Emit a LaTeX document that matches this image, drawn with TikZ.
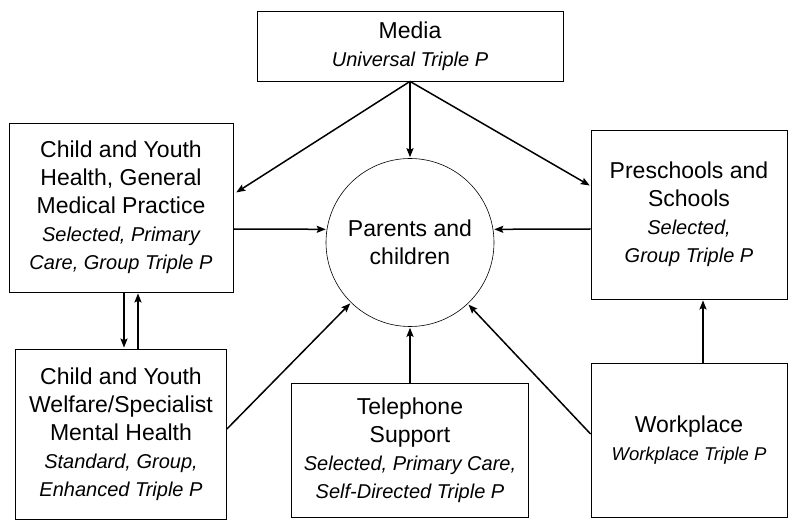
\documentclass[tikz,border=0pt]{standalone}
\usepackage{fontspec}
\setmainfont{Liberation Sans}
\usepackage{tikz}
\usetikzlibrary{arrows.meta}

\newcommand{\prog}[1]{{\itshape\fontsize{20}{25}\selectfont #1}}

\begin{document}
\begin{tikzpicture}[->,>={Stealth[length=9pt,width=7pt,inset=1.5pt]},shorten >=1pt,line width=1.5pt,x=1pt,y=1pt]
\tikzstyle{box}=[rectangle,draw=black,line width=0.8pt,align=center,text=black,inner sep=0pt,font=\fontsize{23}{28}\selectfont]
\tikzstyle{group}=[circle,draw=black,line width=0.6pt,align=center,text=black,inner sep=0pt,minimum size=168pt,font=\fontsize{23}{28}\selectfont]
\useasboundingbox (0,0) rectangle (796,520);

\node[group]                                     (pc)      at (410,277.5) {Parents and\\children};
\node[box,minimum width=306pt,minimum height=70pt]  (media)   [above of=pc, node distance=196.5pt] {Media\\\prog{Universal Triple P}};
\node[box,minimum width=224pt,minimum height=169pt] (health)  at (121,312.5) {Child and Youth\\Health, General\\Medical Practice\\\prog{Selected, Primary}\\\prog{Care, Group Triple P}};
\node[box,minimum width=211pt,minimum height=170pt] (welfare) [below of=health, node distance=226.5pt] {Child and Youth\\Welfare/Specialist\\Mental Health\\\prog{Standard, Group,}\\\prog{Enhanced Triple P}};
\node[box,minimum width=196pt,minimum height=169pt] (schools) at (689,305.5) {Preschools and\\Schools\\\prog{Selected,}\\\prog{Group Triple P}};
\node[box,minimum width=196pt,minimum height=154pt] (work)    [below of=schools, node distance=225.5pt] {Workplace\\{\itshape\fontsize{18.5}{24}\selectfont Workplace Triple P}};
\node[box,minimum width=237pt,minimum height=134pt] (phone)   [below of=pc, node distance=207.5pt] {Telephone\\Support\\\prog{Selected, Primary Care,}\\\prog{Self-Directed Triple P}};

\path (media.south) edge (pc.north)
edge ([xshift=2pt,yshift=14.5pt]health.east)
edge ([yshift=28.5pt]schools.west)
([yshift=-21.5pt]health.east) edge (pc.171)
([yshift=-14.5pt]schools.west) edge (pc.9)
([xshift=3pt]health.south) edge ([xshift=3pt]welfare.north)
([xshift=17pt]welfare.north) edge ([xshift=17pt]health.south)
([yshift=5pt]welfare.east) edge (pc)
(phone.north) edge (pc.south)
([yshift=6pt]work.west) edge (pc)
([xshift=14pt]work.north) edge ([xshift=14pt]schools.south);
\end{tikzpicture}
\end{document}
